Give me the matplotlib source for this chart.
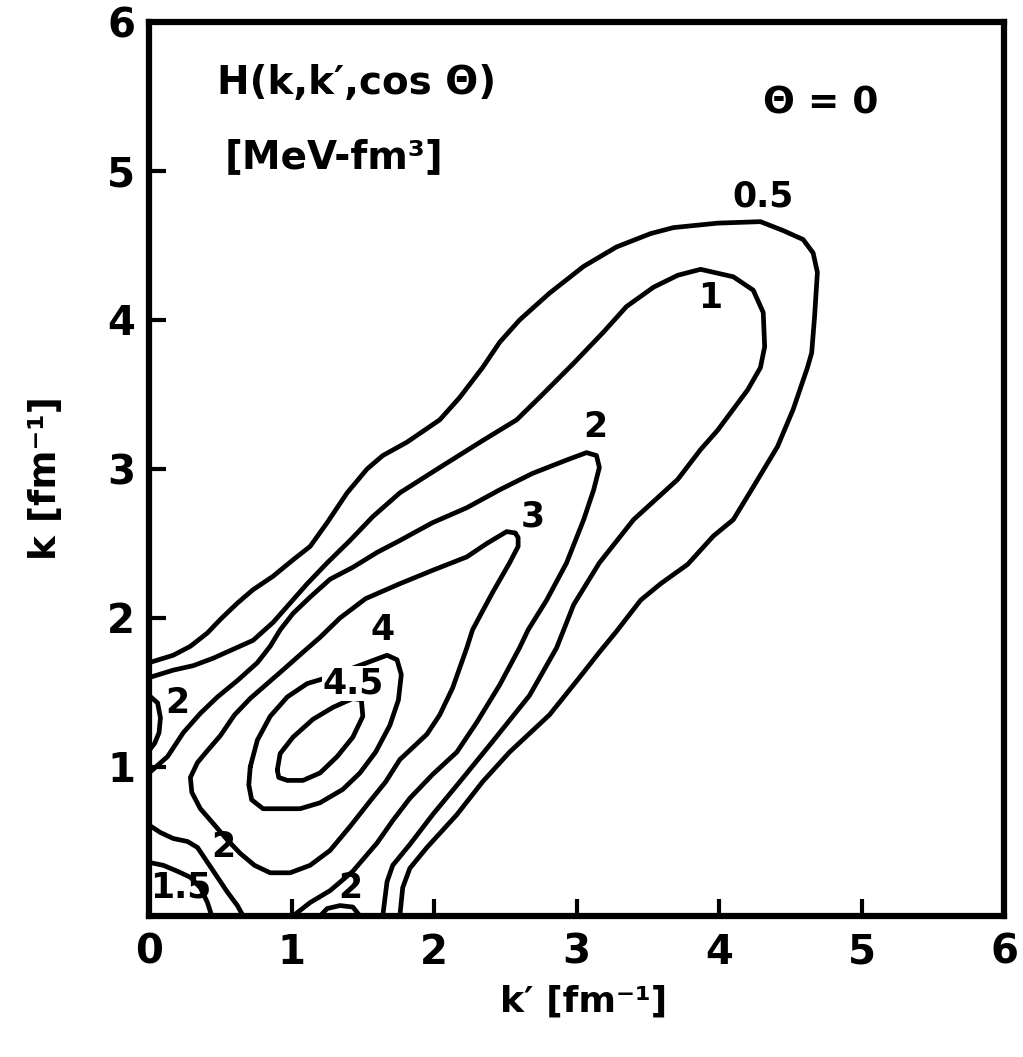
import matplotlib.pyplot as plt

# contour lines of H(k, k', cos theta) at theta = 0, as (k', k) vertices
h05_kp = [0.00, 0.17, 0.29, 0.41, 0.50, 0.62, 0.73, 0.87, 1.01, 1.13, 1.25, 1.39, 1.53, 1.64, 1.81,
          2.04, 2.18, 2.34, 2.46, 2.60, 2.81, 3.05, 3.28, 3.52, 3.68, 3.99, 4.29, 4.45, 4.59, 4.66,
          4.69, 4.67, 4.65, 4.62, 4.52, 4.41, 4.24, 4.10, 3.96, 3.78, 3.59, 3.45, 3.28, 3.16, 3.02,
          2.81, 2.53, 2.34, 2.16, 1.95, 1.83, 1.78, 1.76]
h05_k = [1.70, 1.75, 1.81, 1.90, 1.99, 2.10, 2.19, 2.28, 2.39, 2.48, 2.64, 2.84, 3.00, 3.09, 3.18,
         3.33, 3.48, 3.68, 3.85, 4.00, 4.18, 4.36, 4.49, 4.58, 4.62, 4.65, 4.66, 4.60, 4.54, 4.45,
         4.32, 4.02, 3.78, 3.68, 3.40, 3.15, 2.88, 2.66, 2.55, 2.36, 2.23, 2.12, 1.91, 1.77, 1.60,
         1.35, 1.10, 0.90, 0.68, 0.46, 0.32, 0.19, 0.00]

h1_kp = [0.00, 0.17, 0.31, 0.45, 0.59, 0.73, 0.87, 0.99, 1.11, 1.25, 1.41, 1.57, 1.76, 2.04, 2.34,
         2.58, 2.74, 2.98, 3.19, 3.35, 3.54, 3.71, 3.87, 4.10, 4.24, 4.31, 4.32, 4.29, 4.20, 3.99,
         3.87, 3.71, 3.40, 3.16, 2.98, 2.86, 2.67, 2.41, 2.18, 1.99, 1.83, 1.71, 1.67, 1.64]
h1_k = [1.60, 1.65, 1.68, 1.73, 1.79, 1.85, 1.97, 2.10, 2.23, 2.37, 2.52, 2.68, 2.84, 3.01, 3.19,
        3.33, 3.48, 3.71, 3.92, 4.09, 4.22, 4.30, 4.34, 4.29, 4.20, 4.05, 3.82, 3.68, 3.53, 3.26,
        3.13, 2.93, 2.66, 2.37, 2.09, 1.80, 1.48, 1.17, 0.90, 0.68, 0.48, 0.34, 0.23, 0.00]

h2_kp = [0.00, 0.13, 0.24, 0.36, 0.48, 0.62, 0.76, 0.85, 0.92, 1.01, 1.13, 1.27, 1.43, 1.60, 1.76,
         1.99, 2.23, 2.46, 2.69, 2.93, 3.07, 3.14, 3.16, 3.12, 3.05, 2.93, 2.79, 2.66, 2.60, 2.46,
         2.30, 2.16, 1.99, 1.83, 1.71, 1.60, 1.43, 1.27, 1.13, 1.01]
h2_k = [0.96, 1.07, 1.23, 1.36, 1.47, 1.58, 1.70, 1.81, 1.92, 2.03, 2.14, 2.26, 2.34, 2.44, 2.52,
        2.64, 2.74, 2.86, 2.97, 3.06, 3.11, 3.09, 3.01, 2.86, 2.66, 2.37, 2.12, 1.92, 1.80, 1.55,
        1.30, 1.10, 0.95, 0.79, 0.64, 0.49, 0.30, 0.17, 0.09, 0.00]

h3_kp = [2.57, 2.51, 2.37, 2.23, 1.99, 1.76, 1.52, 1.34, 1.20, 1.08, 0.95, 0.83, 0.71, 0.60, 0.50,
         0.41, 0.34, 0.29, 0.30, 0.36, 0.46, 0.55, 0.64, 0.74, 0.85, 0.99, 1.13, 1.27, 1.41, 1.55,
         1.66, 1.76, 1.85, 1.95, 2.04, 2.13, 2.23, 2.27, 2.32, 2.41, 2.53, 2.59, 2.59, 2.57]
h3_k = [2.57, 2.58, 2.50, 2.41, 2.32, 2.23, 2.13, 2.00, 1.87, 1.77, 1.66, 1.56, 1.46, 1.35, 1.21,
        1.11, 1.03, 0.93, 0.83, 0.72, 0.61, 0.51, 0.42, 0.34, 0.29, 0.29, 0.34, 0.44, 0.60, 0.77,
        0.90, 1.05, 1.13, 1.22, 1.35, 1.53, 1.80, 1.92, 2.01, 2.17, 2.37, 2.48, 2.54, 2.57]

h4_kp = [0.71, 0.76, 0.85, 0.97, 1.11, 1.25, 1.39, 1.53, 1.67, 1.74, 1.77, 1.75, 1.69, 1.59, 1.48,
         1.36, 1.20, 1.06, 0.80, 0.72, 0.70, 0.71]
h4_k = [1.00, 1.18, 1.34, 1.47, 1.56, 1.60, 1.65, 1.70, 1.75, 1.72, 1.62, 1.45, 1.28, 1.10, 0.96,
        0.85, 0.76, 0.72, 0.72, 0.78, 0.88, 1.00]

h45_kp = [0.90, 0.92, 1.01, 1.15, 1.29, 1.43, 1.49, 1.50, 1.43, 1.32, 1.20, 1.08, 0.97, 0.91, 0.90]
h45_k = [0.98, 1.09, 1.20, 1.32, 1.40, 1.46, 1.45, 1.34, 1.20, 1.07, 0.96, 0.91, 0.91, 0.93, 0.98]

# small pieces near the axes
corner2_kp = [0.00, 0.08, 0.17, 0.27, 0.34, 0.41, 0.48, 0.55, 0.62, 0.66]
corner2_k = [0.61, 0.56, 0.52, 0.50, 0.46, 0.36, 0.26, 0.16, 0.07, 0.00]
corner15_kp = [0.00, 0.10, 0.20, 0.29, 0.36, 0.41, 0.44]
corner15_k = [0.36, 0.34, 0.30, 0.26, 0.19, 0.09, 0.00]
edge2_kp = [0.00, 0.06, 0.08, 0.07, 0.04, 0.00]
edge2_k = [1.48, 1.43, 1.33, 1.23, 1.16, 1.11]
bump_kp = [1.20, 1.25, 1.34, 1.43, 1.48]
bump_k = [0.00, 0.05, 0.07, 0.06, 0.00]

label_text = ['0.5', '1', '2', '3', '4', '4.5', '2', '2', '1.5', '2']
label_kp = [4.31, 3.94, 3.13, 2.69, 1.64, 1.43, 0.20, 0.52, 0.22, 1.41]
label_k = [4.83, 4.15, 3.28, 2.68, 1.92, 1.56, 1.43, 0.46, 0.19, 0.19]

ticks_kp = [0, 1, 2, 3, 4, 5, 6]
ticks_k = [1, 2, 3, 4, 5, 6]

fig = plt.figure(figsize=(10.23, 10.57), dpi=100)
ax = fig.add_axes([0.1457, 0.1334, 0.8358, 0.8458])

lines = [(h05_kp, h05_k), (h1_kp, h1_k), (h2_kp, h2_k), (h3_kp, h3_k),
         (h4_kp, h4_k), (h45_kp, h45_k), (corner2_kp, corner2_k),
         (corner15_kp, corner15_k), (edge2_kp, edge2_k), (bump_kp, bump_k)]
for kp, k in lines:
    ax.plot(kp, k, color='black', lw=3.4, solid_capstyle='round', solid_joinstyle='round')

for txt, x, y in zip(label_text, label_kp, label_k):
    box = dict(facecolor='white', edgecolor='none', pad=0.5) if txt == '4.5' else None
    ax.text(x, y, txt, fontsize=25, fontweight='bold', ha='center', va='center', bbox=box)

ax.text(0.48, 5.59, 'H(k,k′,cos Θ)', fontsize=28, fontweight='bold', ha='left', va='center')
ax.text(0.53, 5.09, '[MeV-fm³]', fontsize=28, fontweight='bold', ha='left', va='center')
ax.text(4.71, 5.45, 'Θ = 0', fontsize=27, fontweight='bold', ha='center', va='center')

ax.set_xlim(0, 6)
ax.set_ylim(0, 6)
ax.set_xticks(ticks_kp)
ax.set_xticklabels([str(t) for t in ticks_kp])
ax.set_yticks(ticks_k)
ax.set_yticklabels([str(t) for t in ticks_k])
ax.tick_params(direction='in', length=12, width=3, labelsize=29)
ax.tick_params(axis='x', pad=12)
ax.tick_params(axis='y', pad=10)
for lab in ax.get_xticklabels() + ax.get_yticklabels():
    lab.set_fontweight('bold')
for sp in ax.spines.values():
    sp.set_linewidth(4.5)

ax.set_xlabel('k′ [fm⁻¹]', fontsize=26, fontweight='bold')
ax.set_ylabel('k [fm⁻¹]', fontsize=27, fontweight='bold')
ax.xaxis.set_label_coords(0.508, -0.077)
ax.yaxis.set_label_coords(-0.10, 0.49)

fig.savefig('out.png', dpi=100)
